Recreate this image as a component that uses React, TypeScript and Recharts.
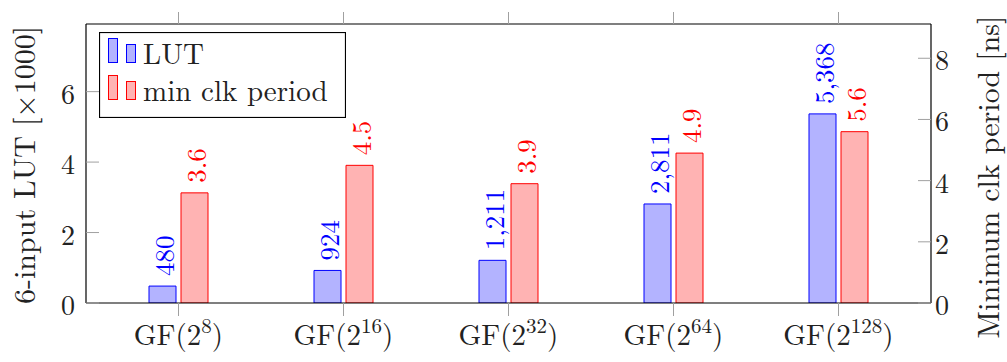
import React from 'react';
import { BarChart, Bar, XAxis, YAxis, LabelList } from 'recharts';

const fields = ['8', '16', '32', '64', '128'];
const lutCounts = [480, 924, 1211, 2811, 5368];
const clkPeriods = [3.6, 4.5, 3.9, 4.9, 5.6];
const lutTicks = [0, 2, 4, 6];
const clkTicks = [0, 2, 4, 6, 8];

const FONT = "'Latin Modern Roman', 'CMU Serif', 'Liberation Serif', serif";
const BLUE = '#0000ff';
const BLUE_FILL = '#b3b3ff';
const RED = '#ff0000';
const RED_FILL = '#ffb3b3';
const TICK_GRAY = '#a0a0a0';

const data = fields.map((f, i) => ({
  field: f,
  lut: lutCounts[i] / 1000,
  lutRaw: lutCounts[i],
  clk: clkPeriods[i],
}));

const series = [
  { label: 'LUT', stroke: BLUE, fill: BLUE_FILL },
  { label: 'min clk period', stroke: RED, fill: RED_FILL },
];

const GFTick = (props: any) => {
  const { x, y, payload } = props;
  return (
    <text x={x} y={y + 27} textAnchor="middle" fontFamily={FONT} fontSize={29} fill="#222">
      GF(2
      <tspan fontSize={21} dy={-12}>{payload.value}</tspan>
      <tspan dy={12}>)</tspan>
    </text>
  );
};

const NumTick = (props: any) => {
  const { x, y, payload, textAnchor } = props;
  return (
    <text x={x} y={y} textAnchor={textAnchor} dominantBaseline="central" fontFamily={FONT} fontSize={28} fill="#222">
      {payload.value}
    </text>
  );
};

const makeBarLabel = (color: string, fmt: (v: any) => string) => (props: any) => {
  const { x, y, width, value } = props;
  const cx = x + width / 2;
  const cy = y - 10;
  return (
    <text
      transform={`translate(${cx},${cy}) rotate(-90)`}
      textAnchor="start"
      dominantBaseline="central"
      fontFamily={FONT}
      fontSize={27}
      fill={color}
    >
      {fmt(value)}
    </text>
  );
};

// legend drawn as an overlay so it doesn't eat into the plot height
const LegendBox = () => (
  <svg width={247} height={86} style={{ position: 'absolute', left: 99, top: 32 }}>
    <rect x={0.5} y={0.5} width={246} height={85} fill="#fff" stroke="#000" strokeWidth={1.2} />
    {series.map((r, i) => (
      <g key={r.label} transform={`translate(0,${i * 37})`}>
        <rect x={9.5} y={6.5} width={9} height={24} fill={r.fill} stroke={r.stroke} strokeWidth={1} />
        <rect x={27.5} y={12.5} width={9} height={18} fill={r.fill} stroke={r.stroke} strokeWidth={1} />
        <text x={44} y={32} fontFamily={FONT} fontSize={29} fill="#222">{r.label}</text>
      </g>
    ))}
  </svg>
);

export default function App() {
  return (
    <div style={{ position: 'absolute', left: 0, top: 0, width: 1007, height: 362, background: '#fff' }}>
      <BarChart
        width={1007}
        height={362}
        data={data}
        margin={{ top: 0, right: 0, bottom: 0, left: 0 }}
        barSize={27}
        barGap={5}
      >
        <XAxis
          dataKey="field"
          height={59}
          padding={{ left: 10, right: 10 }}
          interval={0}
          axisLine={{ stroke: '#000', strokeWidth: 1.2 }}
          tickLine={{ stroke: TICK_GRAY }}
          tickSize={13}
          tick={<GFTick />}
        />
        <XAxis
          xAxisId="top"
          orientation="top"
          dataKey="field"
          height={24}
          padding={{ left: 10, right: 10 }}
          interval={0}
          axisLine={{ stroke: '#000', strokeWidth: 1.2 }}
          tickLine={{ stroke: TICK_GRAY }}
          tickSize={12}
          tick={() => <g />}
        />
        <YAxis
          yAxisId="lut"
          width={86}
          domain={[0, 7.92]}
          ticks={lutTicks}
          allowDataOverflow
          axisLine={{ stroke: '#000', strokeWidth: 1.2 }}
          tickLine={{ stroke: TICK_GRAY }}
          tickSize={-13}
          tickMargin={24}
          tick={<NumTick />}
          label={{
            content: () => (
              <text transform="translate(35,165) rotate(-90)" textAnchor="middle" fontFamily={FONT} fontSize={30} fill="#222">
                6-input LUT [×1000]
              </text>
            ),
          }}
        />
        <YAxis
          yAxisId="clk"
          orientation="right"
          width={76}
          domain={[0, 9.12]}
          ticks={clkTicks}
          allowDataOverflow
          axisLine={{ stroke: '#000', strokeWidth: 1.2 }}
          tickLine={{ stroke: TICK_GRAY }}
          tickSize={-13}
          tickMargin={17}
          tick={<NumTick />}
          label={{
            content: () => (
              <text transform="translate(999,177) rotate(-90)" textAnchor="middle" fontFamily={FONT} fontSize={30} fill="#222">
                Minimum clk period [ns]
              </text>
            ),
          }}
        />
        <Bar yAxisId="lut" dataKey="lut" name="LUT" fill={BLUE_FILL} stroke={BLUE} strokeWidth={1} isAnimationActive={false}>
          <LabelList dataKey="lutRaw" content={makeBarLabel(BLUE, (v) => Number(v).toLocaleString('en-US'))} />
        </Bar>
        <Bar yAxisId="clk" dataKey="clk" name="min clk period" fill={RED_FILL} stroke={RED} strokeWidth={1} isAnimationActive={false}>
          <LabelList dataKey="clk" content={makeBarLabel(RED, (v) => Number(v).toFixed(1))} />
        </Bar>
      </BarChart>
      <LegendBox />
    </div>
  );
}
